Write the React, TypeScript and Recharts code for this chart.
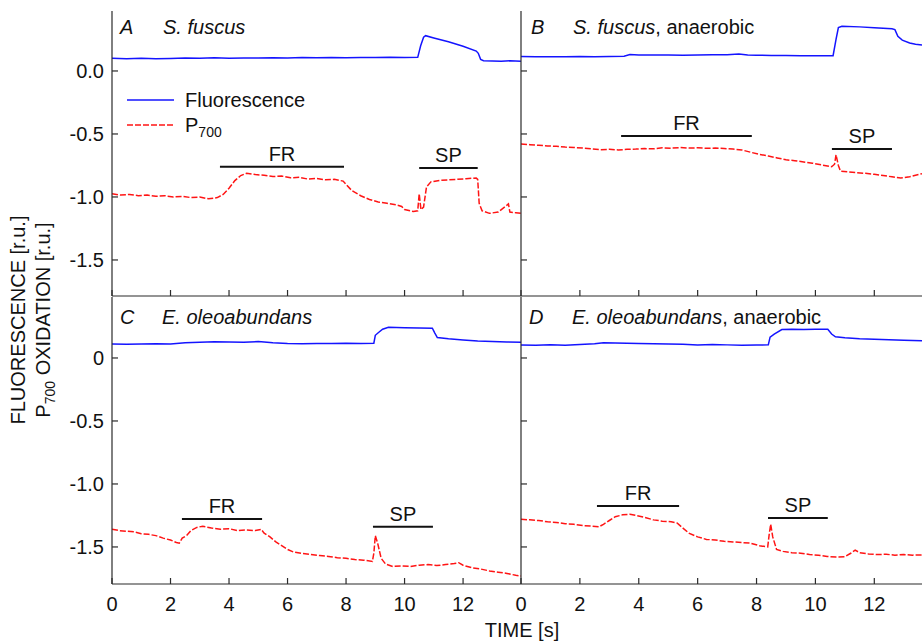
import { LineChart, Line, XAxis, YAxis, ReferenceLine, Legend } from "recharts"

const BLUE = "#1414ff"
const RED = "#ff1414"
const AXIS = "#2b2b2b"
const FONT = "'Liberation Sans', Arial, sans-serif"

// [time s, value r.u.]
const fluoA = [
  [0, 0.1], [0.5, 0.098], [1, 0.101], [1.5, 0.097], [2, 0.099], [2.5, 0.102], [3, 0.1], [3.5, 0.104],
  [4, 0.101], [4.5, 0.103], [5, 0.102], [5.5, 0.105], [6, 0.103], [6.5, 0.106], [7, 0.104], [7.5, 0.106],
  [8, 0.105], [8.5, 0.107], [9, 0.106], [9.5, 0.108], [10, 0.107], [10.45, 0.108], [10.55, 0.2], [10.65, 0.268],
  [10.72, 0.28], [11, 0.262], [11.5, 0.232], [12, 0.196], [12.45, 0.158], [12.52, 0.14], [12.6, 0.092],
  [12.7, 0.082], [13, 0.08], [13.3, 0.077], [13.6, 0.081], [13.98, 0.078],
]
const p700A = [
  [0, -0.975], [0.3, -0.985], [0.6, -0.98], [0.9, -0.99], [1.2, -0.985], [1.5, -0.995], [1.8, -0.99],
  [2.1, -1.0], [2.4, -0.995], [2.7, -1.005], [3, -1.0], [3.3, -1.015], [3.6, -1.005], [3.8, -0.98],
  [4, -0.93], [4.2, -0.87], [4.4, -0.83], [4.6, -0.812], [4.9, -0.822], [5.2, -0.828], [5.5, -0.838],
  [5.8, -0.834], [6.1, -0.848], [6.4, -0.844], [6.7, -0.858], [7, -0.853], [7.3, -0.864], [7.6, -0.86],
  [7.9, -0.874], [8, -0.9], [8.2, -0.95], [8.5, -0.99], [8.8, -1.02], [9.1, -1.04], [9.4, -1.05],
  [9.7, -1.062], [9.9, -1.075], [10, -1.1], [10.3, -1.115], [10.45, -1.11], [10.5, -0.975], [10.56, -1.1],
  [10.65, -1.08], [10.75, -0.92], [10.9, -0.88], [11.2, -0.868], [11.5, -0.864], [11.8, -0.86],
  [12.1, -0.855], [12.45, -0.85], [12.5, -0.86], [12.55, -1.05], [12.65, -1.11], [12.9, -1.13],
  [13.2, -1.12], [13.5, -1.065], [13.55, -1.055], [13.6, -1.12], [13.8, -1.125], [13.98, -1.13],
]
const fluoB = [
  [0, 0.114], [0.5, 0.112], [1, 0.113], [1.5, 0.112], [2, 0.114], [2.5, 0.113], [3, 0.115], [3.5, 0.117],
  [3.7, 0.13], [4, 0.127], [4.5, 0.126], [5, 0.127], [5.5, 0.125], [6, 0.126], [6.5, 0.128], [7, 0.129],
  [7.4, 0.135], [7.7, 0.127], [8, 0.125], [8.5, 0.123], [9, 0.122], [9.5, 0.121], [10, 0.12], [10.6, 0.121],
  [10.7, 0.25], [10.78, 0.345], [10.9, 0.355], [11.5, 0.35], [12, 0.344], [12.6, 0.335], [12.7, 0.328],
  [12.8, 0.275], [12.95, 0.245], [13.2, 0.222], [13.4, 0.212], [13.62, 0.206],
]
const p700B = [
  [0, -0.58], [0.3, -0.585], [0.6, -0.59], [0.9, -0.595], [1.2, -0.598], [1.5, -0.604], [1.8, -0.607],
  [2.1, -0.612], [2.4, -0.618], [2.7, -0.625], [3, -0.622], [3.3, -0.627], [3.6, -0.622], [3.9, -0.62],
  [4.2, -0.616], [4.5, -0.618], [4.8, -0.61], [5.1, -0.613], [5.4, -0.608], [5.7, -0.612], [6, -0.61],
  [6.3, -0.614], [6.6, -0.612], [6.9, -0.615], [7.2, -0.62], [7.5, -0.627], [7.8, -0.645], [8.1, -0.662],
  [8.4, -0.675], [8.7, -0.69], [9, -0.705], [9.3, -0.712], [9.6, -0.722], [9.9, -0.732], [10.2, -0.745],
  [10.55, -0.76], [10.65, -0.74], [10.7, -0.665], [10.78, -0.75], [10.85, -0.795], [11.1, -0.8],
  [11.4, -0.808], [11.7, -0.812], [12, -0.82], [12.3, -0.83], [12.6, -0.84], [12.9, -0.85], [13.2, -0.84],
  [13.62, -0.815],
]
const fluoC = [
  [0, 0.11], [0.5, 0.108], [1, 0.11], [1.5, 0.112], [2, 0.111], [2.5, 0.12], [3, 0.125], [3.5, 0.128],
  [4, 0.126], [4.5, 0.124], [5, 0.13], [5.5, 0.12], [6, 0.115], [6.5, 0.113], [7, 0.115], [7.5, 0.114],
  [8, 0.116], [8.5, 0.115], [8.95, 0.117], [9, 0.18], [9.1, 0.2], [9.25, 0.228], [9.45, 0.243],
  [10, 0.24], [10.5, 0.238], [10.95, 0.236], [11.03, 0.2], [11.12, 0.162], [11.5, 0.152], [12, 0.143],
  [12.5, 0.135], [13, 0.13], [13.5, 0.127], [13.98, 0.124],
]
const p700C = [
  [0, -1.36], [0.25, -1.37], [0.5, -1.375], [0.75, -1.38], [1, -1.395], [1.25, -1.4], [1.5, -1.41],
  [1.75, -1.43], [2, -1.445], [2.2, -1.465], [2.3, -1.47], [2.4, -1.43], [2.55, -1.41], [2.7, -1.37],
  [2.9, -1.345], [3.1, -1.335], [3.4, -1.35], [3.7, -1.36], [4, -1.355], [4.3, -1.37], [4.6, -1.365],
  [4.9, -1.37], [5.1, -1.36], [5.2, -1.39], [5.4, -1.42], [5.6, -1.46], [5.8, -1.49], [6, -1.52],
  [6.2, -1.54], [6.5, -1.552], [6.8, -1.56], [7.1, -1.568], [7.4, -1.575], [7.7, -1.585], [8, -1.59],
  [8.3, -1.6], [8.6, -1.605], [8.9, -1.615], [8.95, -1.55], [9, -1.41], [9.08, -1.47], [9.2, -1.59],
  [9.35, -1.635], [9.6, -1.655], [9.9, -1.65], [10.2, -1.655], [10.5, -1.645], [10.8, -1.64],
  [11.1, -1.648], [11.4, -1.64], [11.7, -1.632], [11.85, -1.625], [12, -1.645], [12.3, -1.665],
  [12.6, -1.675], [12.9, -1.69], [13.2, -1.7], [13.5, -1.71], [13.8, -1.725], [13.98, -1.73],
]
const fluoD = [
  [0, 0.103], [0.5, 0.102], [1, 0.104], [1.5, 0.101], [2, 0.106], [2.5, 0.112], [2.8, 0.121], [3.2, 0.118],
  [3.6, 0.116], [4, 0.115], [4.5, 0.113], [5, 0.11], [5.5, 0.108], [6, 0.104], [6.5, 0.106], [7, 0.104],
  [7.5, 0.102], [8, 0.103], [8.4, 0.104], [8.46, 0.165], [8.6, 0.19], [8.86, 0.226], [9.2, 0.228],
  [9.6, 0.227], [10, 0.229], [10.42, 0.228], [10.55, 0.19], [10.68, 0.168], [11, 0.16], [11.5, 0.152],
  [12, 0.148], [12.5, 0.144], [13, 0.14], [13.62, 0.137],
]
const p700D = [
  [0, -1.28], [0.3, -1.285], [0.6, -1.29], [0.9, -1.3], [1.2, -1.305], [1.5, -1.315], [1.8, -1.32],
  [2.1, -1.33], [2.4, -1.335], [2.65, -1.34], [2.8, -1.32], [3, -1.29], [3.2, -1.26], [3.45, -1.245],
  [3.7, -1.24], [3.9, -1.25], [4.2, -1.265], [4.5, -1.285], [4.8, -1.295], [5.1, -1.3], [5.3, -1.31],
  [5.5, -1.35], [5.7, -1.39], [6, -1.42], [6.3, -1.44], [6.6, -1.445], [6.9, -1.455], [7.2, -1.46],
  [7.5, -1.465], [7.8, -1.47], [8.1, -1.49], [8.38, -1.5], [8.43, -1.4], [8.48, -1.32], [8.55, -1.42],
  [8.68, -1.52], [8.9, -1.535], [9.2, -1.545], [9.5, -1.55], [9.8, -1.56], [10.1, -1.565], [10.4, -1.575],
  [10.7, -1.58], [11, -1.578], [11.2, -1.55], [11.35, -1.525], [11.5, -1.545], [11.8, -1.555],
  [12.1, -1.56], [12.4, -1.558], [12.7, -1.565], [13, -1.56], [13.3, -1.565], [13.62, -1.563],
]

// light periods: far red (FR) and saturating pulse (SP)
const barsA = [{ name: "FR", x1: 3.69, x2: 7.93, y: -0.76 }, { name: "SP", x1: 10.5, x2: 12.5, y: -0.77 }]
const barsB = [{ name: "FR", x1: 3.4, x2: 7.84, y: -0.516 }, { name: "SP", x1: 10.56, x2: 12.6, y: -0.62 }]
const barsC = [{ name: "FR", x1: 2.39, x2: 5.13, y: -1.278 }, { name: "SP", x1: 8.92, x2: 10.97, y: -1.34 }]
const barsD = [{ name: "FR", x1: 2.58, x2: 5.37, y: -1.175 }, { name: "SP", x1: 8.39, x2: 10.42, y: -1.27 }]

const xTicks = [0, 2, 4, 6, 8, 10, 12]
const yTicks = [-1.5, -1, -0.5, 0]

const toPts = (arr: number[][]) => arr.map(([t, v]) => ({ t, v }))

const XTick = (props: any) => {
  const { x, y, payload, show } = props
  return (
    <g>
      <line x1={x} y1={y} x2={x} y2={y - 6} stroke={AXIS} strokeWidth={1.2} />
      {show && (
        <text x={x} y={y + 27} textAnchor="middle" fontSize={20} fontFamily={FONT} fill="#111">
          {payload.value}
        </text>
      )}
    </g>
  )
}

const YTick = (props: any) => {
  const { x, y, payload, show, zeroPlain } = props
  const v = payload.value
  const label = v === 0 && zeroPlain ? "0" : v.toFixed(1)
  return (
    <g>
      <line x1={x} y1={y} x2={x + 6} y2={y} stroke={AXIS} strokeWidth={1.2} />
      {show && (
        <text x={x - 8} y={y + 7} textAnchor="end" fontSize={20} fontFamily={FONT} fill="#111">
          {label}
        </text>
      )}
    </g>
  )
}

const LegendBox = () => (
  <svg width={200} height={52} style={{ display: "block" }}>
    <line x1={0} y1={12} x2={47} y2={12} stroke={BLUE} strokeWidth={1.5} />
    <text x={58} y={19} fontSize={20} fontFamily={FONT} fill="#111">Fluorescence</text>
    <line x1={0} y1={37} x2={47} y2={37} stroke={RED} strokeWidth={1.5} strokeDasharray="6 2" />
    <text x={58} y={44} fontSize={20} fontFamily={FONT} fill="#111">
      P<tspan fontSize={14} dy={5}>700</tspan>
    </text>
  </svg>
)

type PanelProps = {
  left: number
  top: number
  width: number
  height: number
  marginTop: number
  yAxisWidth: number
  xAxisHeight: number
  xMax: number
  yDomain: [number, number]
  fluo: number[][]
  p700: number[][]
  bars: { name: string; x1: number; x2: number; y: number }[]
  yLabels: boolean
  xLabels: boolean
  zeroPlain: boolean
  topFrame: boolean
  legend?: boolean
}

function Panel(p: PanelProps) {
  return (
    <div style={{ position: "absolute", left: p.left, top: p.top }}>
      <LineChart width={p.width} height={p.height} margin={{ top: p.marginTop, right: 0, bottom: 0, left: 0 }}>
        <XAxis
          dataKey="t"
          type="number"
          domain={[0, p.xMax]}
          ticks={xTicks}
          interval={0}
          allowDataOverflow
          height={p.xAxisHeight}
          tickSize={0}
          tickMargin={0}
          tickLine={false}
          axisLine={{ stroke: AXIS, strokeWidth: 1.2 }}
          tick={(tp: any) => <XTick {...tp} show={p.xLabels} />}
        />
        {p.topFrame && (
          <XAxis
            xAxisId="top"
            orientation="top"
            type="number"
            domain={[0, p.xMax]}
            height={0}
            tick={false}
            tickLine={false}
            axisLine={{ stroke: AXIS, strokeWidth: 1.2 }}
          />
        )}
        <YAxis
          type="number"
          domain={p.yDomain}
          ticks={yTicks}
          interval={0}
          allowDataOverflow
          width={p.yAxisWidth}
          tickSize={0}
          tickMargin={0}
          tickLine={false}
          axisLine={{ stroke: AXIS, strokeWidth: 1.2 }}
          tick={(tp: any) => <YTick {...tp} show={p.yLabels} zeroPlain={p.zeroPlain} />}
        />
        {p.bars.map((b) => (
          <ReferenceLine
            key={b.name}
            segment={[{ x: b.x1, y: b.y }, { x: b.x2, y: b.y }]}
            stroke="#111"
            strokeWidth={2}
            label={{ value: b.name, position: "top", offset: 6, fontSize: 20, fill: "#111", fontFamily: FONT }}
          />
        ))}
        <Line
          data={toPts(p.fluo)}
          dataKey="v"
          type="linear"
          dot={false}
          stroke={BLUE}
          strokeWidth={1.5}
          isAnimationActive={false}
        />
        <Line
          data={toPts(p.p700)}
          dataKey="v"
          type="linear"
          dot={false}
          stroke={RED}
          strokeWidth={1.5}
          strokeDasharray="6 2"
          isAnimationActive={false}
        />
        {p.legend && (
          <Legend
            layout="vertical"
            align="center"
            verticalAlign="middle"
            wrapperStyle={{ left: 127, top: 88, width: 200 }}
            content={() => <LegendBox />}
          />
        )}
      </LineChart>
    </div>
  )
}

const titles = [
  { letter: "A", species: "S. fuscus", extra: "", lx: 120, sx: 163, y: 33.5 },
  { letter: "B", species: "S. fuscus", extra: ", anaerobic", lx: 531, sx: 573, y: 33.5 },
  { letter: "C", species: "E. oleoabundans", extra: "", lx: 120, sx: 162, y: 323.5 },
  { letter: "D", species: "E. oleoabundans", extra: ", anaerobic", lx: 529, sx: 572, y: 323.5 },
]

export default function App() {
  const topDom: [number, number] = [-1.786, 0.476]
  const botDom: [number, number] = [-1.794, 0.484]
  return (
    <div
      style={{
        position: "absolute",
        left: 0,
        top: 0,
        width: 922,
        height: 641,
        background: "#fff",
        overflow: "hidden",
        fontFamily: FONT,
      }}
    >
      <Panel left={0} top={0} width={521} height={297} marginTop={11} yAxisWidth={112} xAxisHeight={1}
        xMax={13.98} yDomain={topDom} fluo={fluoA} p700={p700A} bars={barsA}
        yLabels xLabels={false} zeroPlain={false} topFrame legend />
      <Panel left={510} top={0} width={412} height={297} marginTop={11} yAxisWidth={11} xAxisHeight={1}
        xMax={13.62} yDomain={topDom} fluo={fluoB} p700={p700B} bars={barsB}
        yLabels={false} xLabels={false} zeroPlain={false} topFrame />
      <Panel left={0} top={296} width={521} height={345} marginTop={1} yAxisWidth={112} xAxisHeight={57}
        xMax={13.98} yDomain={botDom} fluo={fluoC} p700={p700C} bars={barsC}
        yLabels xLabels zeroPlain topFrame={false} />
      <Panel left={510} top={296} width={412} height={345} marginTop={1} yAxisWidth={11} xAxisHeight={57}
        xMax={13.62} yDomain={botDom} fluo={fluoD} p700={p700D} bars={barsD}
        yLabels={false} xLabels zeroPlain topFrame={false} />
      <svg width={922} height={641} style={{ position: "absolute", left: 0, top: 0, pointerEvents: "none" }}>
        <g fontFamily={FONT} fontSize={20} fill="#111">
          <text transform="translate(25,320) rotate(-90)" textAnchor="middle">FLUORESCENCE [r.u.]</text>
          <text transform="translate(50,320) rotate(-90)" textAnchor="middle">
            P<tspan fontSize={14} dy={5}>700</tspan>
            <tspan dy={-5}> OXIDATION [r.u.]</tspan>
          </text>
          <text x={522} y={637} textAnchor="middle">TIME [s]</text>
          {titles.map((t) => (
            <g key={t.letter}>
              <text x={t.lx} y={t.y} fontStyle="italic">{t.letter}</text>
              <text x={t.sx} y={t.y}>
                <tspan fontStyle="italic">{t.species}</tspan>
                {t.extra}
              </text>
            </g>
          ))}
        </g>
      </svg>
    </div>
  )
}
